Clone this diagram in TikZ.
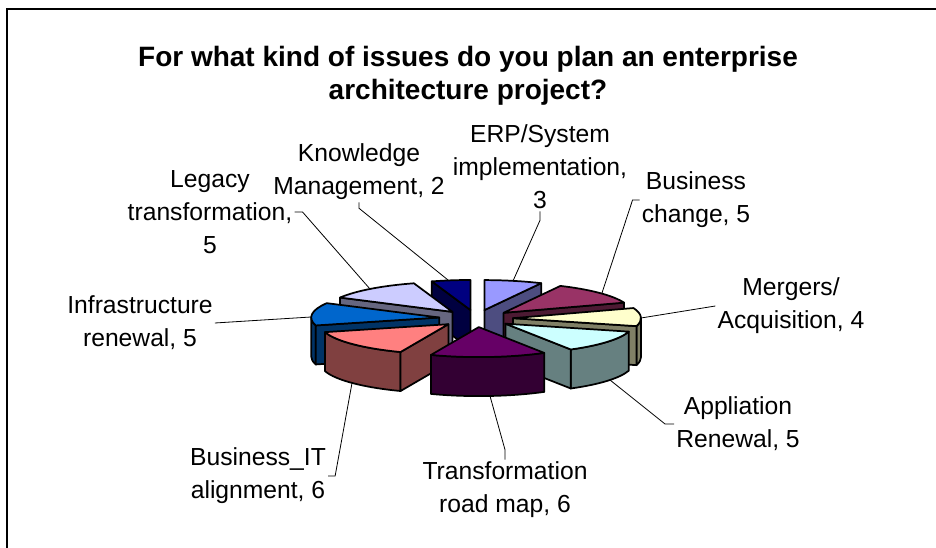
\documentclass[tikz,border=0pt]{standalone}
\usepackage{fontspec}
\setmainfont{Liberation Sans}
\begin{document}
\begin{tikzpicture}[x=0.75pt,y=0.75pt,yscale=-1,xscale=1,
    slab/.style={draw=black, line width=1.3pt, line join=round},
    leader/.style={draw=black, line width=0.6pt},
    lbltext/.style={align=center, inner sep=1.5pt, font=\fontsize{18.5}{24.75}\selectfont}]
        \useasboundingbox (0,0) rectangle (936,548);

        %Straight Lines [frame]
        \draw [line width=1.5pt] (7,548) -- (7,9) -- (936,9) ;

        % Text Node
        \node (title) at (468,75.5) [align=center, inner sep=0.75pt, font=\bfseries\fontsize{21}{24.75}\selectfont] {For what kind of issues do you plan an enterprise\\architecture project?};

        %Shape: Slice [Knowledge Management] cut face
        \draw [slab, fill={rgb, 255:red, 0; green, 0; blue, 64 }] (470.4,310) -- ++(252.44:128 and 30) -- ++(0,39) -- (470.4,349) -- cycle ;
        %Shape: Slice [Knowledge Management] top
        \draw [slab, fill={rgb, 255:red, 0; green, 0; blue, 128 }] (470.4,310) -- ++(252.44:128 and 30) arc [start angle=252.44, end angle=270, x radius=128, y radius=30] -- cycle ;

        %Shape: Slice [ERP] cut face
        \draw [slab, fill={rgb, 255:red, 77; green, 77; blue, 128 }] (484.4,310.1) -- ++(-63.66:128 and 30) -- ++(0,39) -- (484.4,349.1) -- cycle ;
        %Shape: Slice [ERP] top
        \draw [slab, fill={rgb, 255:red, 153; green, 153; blue, 255 }] (484.4,310.1) -- ++(-90:128 and 30) arc [start angle=-90, end angle=-63.66, x radius=128, y radius=30] -- cycle ;

        %Shape: Slice [Legacy] cut face
        \draw [slab, fill={rgb, 255:red, 102; green, 102; blue, 128 }] (452.5,311.9) -- ++(208.54:128 and 30) -- ++(0,39) -- (452.5,350.9) -- cycle ;
        %Shape: Slice [Legacy] top
        \draw [slab, fill={rgb, 255:red, 204; green, 204; blue, 255 }] (452.5,311.9) -- ++(208.54:128 and 30) arc [start angle=208.54, end angle=252.44, x radius=128, y radius=30] -- cycle ;

        %Shape: Slice [Business change] cut face
        \draw [slab, fill={rgb, 255:red, 77; green, 26; blue, 51 }] (503.6,312.8) -- ++(-19.76:128 and 30) -- ++(0,39) -- (503.6,351.8) -- cycle ;
        %Shape: Slice [Business change] top
        \draw [slab, fill={rgb, 255:red, 153; green, 51; blue, 102 }] (503.6,312.8) -- ++(-63.66:128 and 30) arc [start angle=-63.66, end angle=-19.76, x radius=128, y radius=30] -- cycle ;

        %Shape: Slice [Infrastructure] wall
        \draw [slab, fill={rgb, 255:red, 0; green, 51; blue, 102 }] (439.2,317.5) ++(164.63:128 and 30) arc [start angle=164.63, end angle=180, x radius=128, y radius=30] -- ++(0,39) arc [start angle=180, end angle=164.63, x radius=128, y radius=30] -- cycle ;
        %Shape: Slice [Infrastructure] cut face
        \draw [slab, fill={rgb, 255:red, 0; green, 51; blue, 102 }] (439.2,317.5) -- ++(164.63:128 and 30) -- ++(0,39) -- (439.2,356.5) -- cycle ;
        %Shape: Slice [Infrastructure] top
        \draw [slab, fill={rgb, 255:red, 0; green, 102; blue, 204 }] (439.2,317.5) -- ++(164.63:128 and 30) arc [start angle=164.63, end angle=208.54, x radius=128, y radius=30] -- cycle ;

        %Shape: Slice [Mergers] wall
        \draw [slab, fill={rgb, 255:red, 128; green, 128; blue, 102 }] (513,318.2) ++(0:128 and 30) arc [start angle=0, end angle=15.37, x radius=128, y radius=30] -- ++(0,39) arc [start angle=15.37, end angle=0, x radius=128, y radius=30] -- cycle ;
        %Shape: Slice [Mergers] cut face
        \draw [slab, fill={rgb, 255:red, 128; green, 128; blue, 102 }] (513,318.2) -- ++(15.37:128 and 30) -- ++(0,39) -- (513,357.2) -- cycle ;
        %Shape: Slice [Mergers] top
        \draw [slab, fill={rgb, 255:red, 255; green, 255; blue, 204 }] (513,318.2) -- ++(-19.76:128 and 30) arc [start angle=-19.76, end angle=15.37, x radius=128, y radius=30] -- cycle ;

        %Shape: Slice [Appliation] wall
        \draw [slab, fill={rgb, 255:red, 102; green, 128; blue, 128 }] (505.4,323.7) ++(15.37:128 and 30) arc [start angle=15.37, end angle=59.27, x radius=128, y radius=30] -- ++(0,39) arc [start angle=59.27, end angle=15.37, x radius=128, y radius=30] -- cycle ;
        %Shape: Slice [Appliation] cut face
        \draw [slab, fill={rgb, 255:red, 102; green, 128; blue, 128 }] (505.4,323.7) -- ++(59.27:128 and 30) -- ++(0,39) -- (505.4,362.7) -- cycle ;
        %Shape: Slice [Appliation] top
        \draw [slab, fill={rgb, 255:red, 204; green, 255; blue, 255 }] (505.4,323.7) -- ++(15.37:128 and 30) arc [start angle=15.37, end angle=59.27, x radius=128, y radius=30] -- cycle ;

        %Shape: Slice [Business_IT] wall
        \draw [slab, fill={rgb, 255:red, 128; green, 64; blue, 64 }] (448.4,324.2) ++(111.95:128 and 30) arc [start angle=111.95, end angle=164.63, x radius=128, y radius=30] -- ++(0,39) arc [start angle=164.63, end angle=111.95, x radius=128, y radius=30] -- cycle ;
        %Shape: Slice [Business_IT] cut face
        \draw [slab, fill={rgb, 255:red, 128; green, 64; blue, 64 }] (448.4,324.2) -- ++(111.95:128 and 30) -- ++(0,39) -- (448.4,363.2) -- cycle ;
        %Shape: Slice [Business_IT] top
        \draw [slab, fill={rgb, 255:red, 255; green, 128; blue, 128 }] (448.4,324.2) -- ++(111.95:128 and 30) arc [start angle=111.95, end angle=164.63, x radius=128, y radius=30] -- cycle ;

        %Shape: Slice [Transformation] wall
        \draw [slab, fill={rgb, 255:red, 51; green, 0; blue, 51 }] (478.8,327.1) ++(59.27:128 and 30) arc [start angle=59.27, end angle=111.95, x radius=128, y radius=30] -- ++(0,39) arc [start angle=111.95, end angle=59.27, x radius=128, y radius=30] -- cycle ;
        %Shape: Slice [Transformation] top
        \draw [slab, fill={rgb, 255:red, 102; green, 0; blue, 102 }] (478.8,327.1) -- ++(59.27:128 and 30) arc [start angle=59.27, end angle=111.95, x radius=128, y radius=30] -- cycle ;

        % Text Node
        \node (erp) at (540,167) [lbltext] {ERP/System\\implementation,\\3};
        % Text Node
        \node (bizchange) at (696,200) [lbltext] {Business\\change, 5};
        % Text Node
        \node (mergers) at (791,306) [lbltext] {Mergers/\\Acquisition, 4};
        % Text Node
        \node (appren) at (738,424) [lbltext] {Appliation\\Renewal, 5};
        % Text Node
        \node (roadmap) at (505,490) [lbltext] {Transformation\\road map, 6};
        % Text Node
        \node (bizit) at (258,476) [lbltext] {Business\_IT\\alignment, 6};
        % Text Node
        \node (infra) at (140,323) [lbltext] {Infrastructure\\renewal, 5};
        % Text Node
        \node (legacy) at (210,212) [lbltext] {Legacy\\transformation,\\5};
        % Text Node
        \node (knowmgmt) at (359,172) [lbltext] {Knowledge\\Management, 2};

        % leader ends on the slices
        \coordinate (erp-end) at (513,281);
        \coordinate (bizchange-end) at (602,293);
        \coordinate (mergers-end) at (641,318);
        \coordinate (appren-end) at (610,380);
        \coordinate (roadmap-end) at (490,396);
        \coordinate (bizit-end) at (352,383);
        \coordinate (infra-end) at (311,317);
        \coordinate (legacy-end) at (370,289);
        \coordinate (knowmgmt-end) at (448,280);

        %Straight Lines [leaders]
        \draw [leader] (erp.south) -- ++(0,9) -- (erp-end) ;
        \draw [leader] (bizchange.west) -- ++(-7,0) -- (bizchange-end) ;
        \draw [leader] (mergers.west) -- (mergers-end) ;
        \draw [leader] (appren.west) -- ++(-9,0) -- (appren-end) ;
        \draw [leader] (roadmap.north) -- ++(0,-10) -- (roadmap-end) ;
        \draw [leader] (bizit.east) -- ++(7,0) -- (bizit-end) ;
        \draw [leader] (infra.east) -- (infra-end) ;
        \draw [leader] (legacy.east) -- ++(8,0) -- (legacy-end) ;
        \draw [leader] (knowmgmt.south) -- ++(0,6) -- (knowmgmt-end) ;
    \end{tikzpicture}
\end{document}
